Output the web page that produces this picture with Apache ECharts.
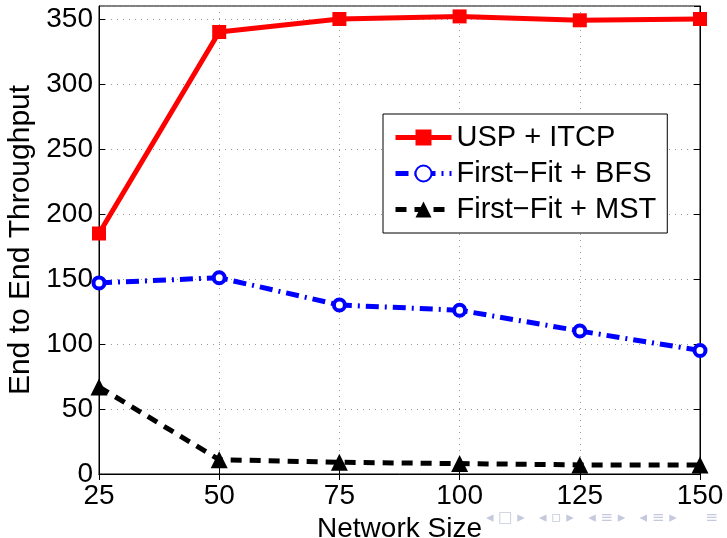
<!DOCTYPE html>
<html>
<head>
<meta charset="utf-8">
<script src="https://cdn.jsdelivr.net/npm/echarts@6/dist/echarts.min.js"></script>
<style>
  html, body { margin: 0; padding: 0; background: #fff; }
  #main { width: 727px; height: 538px; }
</style>
</head>
<body>
<div id="main"></div>
<script>
var sizes = [25, 50, 75, 100, 125, 150];
var uspItcp = [185, 340, 350, 352, 349, 350];
var ffBfs = [147, 151, 130, 126, 110, 95];
var ffMst = [67, 11, 9, 8, 7, 7];

function pairs(ys) {
    return sizes.map(function (x, i) { return [x, ys[i]]; });
}

var font = 'Liberation Sans, Arial, sans-serif';
var dotted = { show: true, lineStyle: { color: '#999', type: [1, 5], width: 1 } };

var myChart = echarts.init(document.getElementById('main'));

myChart.setOption({
    animation: false,
    grid: {
        left: 99, right: 27, top: 6, bottom: 64,
        outerBoundsMode: 'none',
        show: true, borderColor: '#000', borderWidth: 1
    },
    legend: {
        orient: 'vertical',
        left: 383, top: 114,
        itemWidth: 56, itemHeight: 20, itemGap: 7,
        padding: [9, 11, 9, 10],
        backgroundColor: '#fff',
        borderColor: '#000', borderWidth: 1,
        textStyle: { fontFamily: font, fontSize: 29, color: '#000' },
        data: [
            { name: 'USP + ITCP', lineStyle: { width: 5 } },
            { name: 'First\u2212Fit + BFS', lineStyle: { width: 5 } },
            { name: 'First\u2212Fit + MST', lineStyle: { width: 5 } }
        ]
    },
    graphic: [{
        type: 'text', left: 486, top: 511,
        style: {
            text: '\u25c2 \u25a1 \u25b8   \u25c2 \u25ab \u25b8   \u25c2 \u2261 \u25b8   \u25c2 \u2261 \u25b8      \u2261',
            fontSize: 15, fill: '#c5c9dd', fontFamily: 'DejaVu Sans'
        }
    }],
    xAxis: [
        {
            type: 'value', min: 25, max: 150, interval: 25,
            name: 'Network Size', nameLocation: 'middle', nameGap: 36,
            nameTextStyle: { fontFamily: font, fontSize: 28, color: '#000' },
            axisLine: { lineStyle: { color: '#000' } },
            axisTick: { inside: true, length: 6, lineStyle: { color: '#000' } },
            axisLabel: { fontFamily: font, fontSize: 28, color: '#000', margin: 8 },
            splitLine: dotted
        },
        {
            type: 'value', min: 25, max: 150, interval: 25, position: 'top',
            axisLine: { lineStyle: { color: '#000' } },
            axisTick: { inside: true, length: 6, lineStyle: { color: '#000' } },
            axisLabel: { show: false }, splitLine: { show: false }
        }
    ],
    yAxis: [
        {
            type: 'value', min: 0, max: 360, interval: 50,
            name: 'End to End Throughput', nameLocation: 'middle', nameGap: 61,
            nameTextStyle: { fontFamily: font, fontSize: 30, color: '#000' },
            axisLine: { show: true, lineStyle: { color: '#000' } },
            axisTick: { show: true, inside: true, length: 6, lineStyle: { color: '#000' } },
            axisLabel: { fontFamily: font, fontSize: 28, color: '#000', margin: 6,
                showMaxLabel: false },
            splitLine: dotted
        },
        {
            type: 'value', min: 0, max: 360, interval: 50, position: 'right',
            axisLine: { show: true, lineStyle: { color: '#000' } },
            axisTick: { show: true, inside: true, length: 6, lineStyle: { color: '#000' } },
            axisLabel: { show: false }, splitLine: { show: false }
        }
    ],
    series: [
        {
            name: 'USP + ITCP', type: 'line', data: pairs(uspItcp),
            symbol: 'rect', symbolSize: 14,
            itemStyle: { color: '#ff0000' },
            lineStyle: { color: '#ff0000', width: 5 }
        },
        {
            name: 'First\u2212Fit + BFS', type: 'line', data: pairs(ffBfs),
            symbol: 'circle', symbolSize: 11,
            itemStyle: { color: '#fff', borderColor: '#0000ff', borderWidth: 4 },
            lineStyle: { color: '#0000ff', width: 5, type: [13, 6, 2, 6] }
        },
        {
            name: 'First\u2212Fit + MST', type: 'line', data: pairs(ffMst),
            symbol: 'triangle', symbolSize: 17,
            itemStyle: { color: '#000' },
            lineStyle: { color: '#000', width: 5, type: [11, 8] }
        }
    ]
});
</script>
</body>
</html>
